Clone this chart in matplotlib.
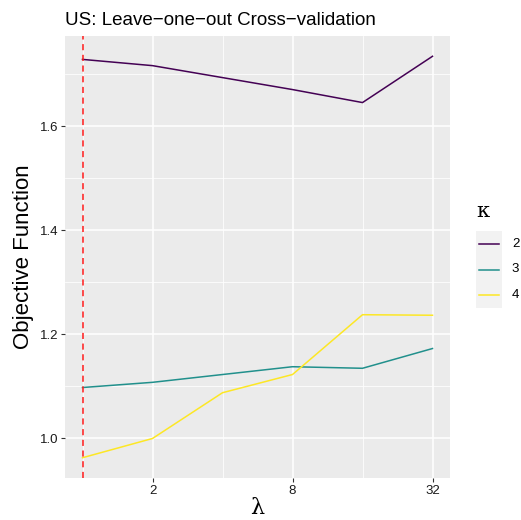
import matplotlib.pyplot as plt
from matplotlib.ticker import FixedLocator, FixedFormatter, NullFormatter

plt.rcParams['font.family'] = ['Liberation Sans', 'DejaVu Sans']

lambdas = [1, 2, 4, 8, 16, 32]
kappas = ['2', '3', '4']
objective = {
    '2': [1.729, 1.717, 1.694, 1.671, 1.646, 1.735],
    '3': [1.098, 1.108, 1.123, 1.138, 1.135, 1.173],
    '4': [0.963, 1.000, 1.088, 1.123, 1.238, 1.237],
}
colors = {'2': '#440154', '3': '#21908C', '4': '#FDE725'}
best_lambda = 1

fig = plt.figure(figsize=(5.21, 5.20), dpi=100)
ax = fig.add_axes([65 / 521, 42 / 520, 385 / 521, 442 / 520])
ax.set_facecolor('#EBEBEB')

ax.set_xscale('log', base=2)
ax.set_xlim(2 ** -0.25, 2 ** 5.25)
ax.set_ylim(0.924, 1.774)

ax.xaxis.set_major_locator(FixedLocator([2, 8, 32]))
ax.xaxis.set_major_formatter(FixedFormatter(['2', '8', '32']))
ax.xaxis.set_minor_locator(FixedLocator([1, 4, 16]))
ax.xaxis.set_minor_formatter(NullFormatter())
ax.yaxis.set_major_locator(FixedLocator([1.0, 1.2, 1.4, 1.6]))
ax.yaxis.set_major_formatter(FixedFormatter(['1.0', '1.2', '1.4', '1.6']))
ax.yaxis.set_minor_locator(FixedLocator([1.1, 1.3, 1.5, 1.7]))

ax.grid(which='major', color='white', linewidth=1.1)
ax.grid(which='minor', color='white', linewidth=0.55)
ax.set_axisbelow(True)
for s in ax.spines.values():
    s.set_visible(False)
ax.tick_params(which='major', length=3, width=0.8, color='#333333',
               labelsize=9.5, labelcolor='#1A1A1A', pad=2)
ax.tick_params(which='minor', length=0)

for k in kappas:
    ax.plot(lambdas, objective[k], color=colors[k], linewidth=1.1)

ax.axvline(best_lambda, color='#FF1A1A', linestyle=(0, (4, 3)), linewidth=1.1)

ax.set_title('US: Leave\u2212one\u2212out Cross\u2212validation', loc='left',
             fontsize=13.5, pad=8)
ax.set_xlabel('\u03bb', fontsize=16, labelpad=0, family='DejaVu Serif')
ax.set_ylabel('Objective Function', fontsize=16, labelpad=4)

# legend drawn as its own small axes so the keys get the grey background
lax = fig.add_axes([476 / 521, 212 / 520, 26 / 521, 77 / 520])
lax.set_facecolor('#F2F2F2')
lax.set_xlim(0, 1)
lax.set_ylim(len(kappas) - 0.5, -0.5)
lax.set_xticks([])
lax.set_yticks([])
for s in lax.spines.values():
    s.set_visible(False)
for i, k in enumerate(kappas):
    lax.plot([0.12, 0.88], [i, i], color=colors[k], linewidth=1.1)
    lax.text(1.38, i, k, fontsize=9.5, va='center', ha='left',
             transform=lax.transData, clip_on=False)
lax.text(0.02, -0.9, '\u03ba', fontsize=15, va='bottom', ha='left',
         family='DejaVu Serif', transform=lax.transData, clip_on=False)

fig.savefig('out.png', dpi=100)
